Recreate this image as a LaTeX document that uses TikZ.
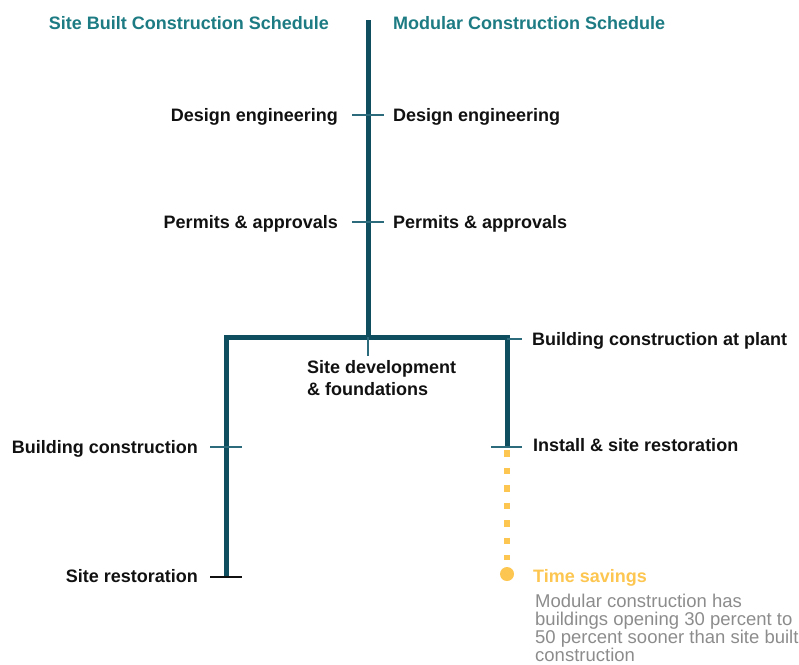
\documentclass[tikz,border=0pt]{standalone}
\usepackage{fontspec}
\setmainfont{Liberation Sans}
\usepackage{tikz}
\definecolor{headteal}{HTML}{1D7B83}
\definecolor{lineteal}{HTML}{0E4E5F}
\definecolor{tickteal}{HTML}{2B6B7B}
\definecolor{savegold}{HTML}{FCC650}
\definecolor{notegray}{HTML}{8C8C8C}
\definecolor{labelblack}{HTML}{111111}

\begin{document}
\begin{tikzpicture}[x=1pt,y=-1pt,line cap=butt,
  head/.style={inner sep=0pt,text=headteal,font=\fontsize{18}{20}\selectfont\bfseries},
  lbl/.style={inner sep=0pt,text=labelblack,font=\fontsize{18}{22}\selectfont\bfseries},
  trunk/.style={line width=5pt,color=lineteal,line join=miter},
  tick/.style={line width=1.5pt,color=tickteal}]
\useasboundingbox (0,0) rectangle (799,664);
% headings
\node[head,anchor=base east] (sitehead) at (329,29) {Site Built Construction Schedule};
\node[head,anchor=base west] (modhead) at (393,29) {Modular Construction Schedule};
% schedule lines
\coordinate (top) at (368,20);
\coordinate (split) at (368,337);
\coordinate (lcorner) at (226,337);
\coordinate (rcorner) at (507,337);
\coordinate (lend) at (226,577);
\coordinate (rend) at (507,447);
\draw[trunk] (top) -- (split);
\draw[trunk] (lend) -- (lcorner) -- (rcorner) -- (rend);
\draw[line width=1.5pt,color=tickteal] (split) -- (368,356);
% shared steps
\foreach \y/\txt [count=\i] in {121/Design engineering,228/Permits \& approvals}{
  \node[lbl,anchor=base east] (sitestep\i) at (338,\y) {\txt};
  \node[lbl,anchor=base west] (modstep\i) at (393,\y) {\txt};
  \draw[tick] (352,{\y-6}) -- (384,{\y-6});
}
% branches (base of a two-line node is its last line)
\node[lbl,anchor=base west,align=left] (sitedev) at (307,395) {Site development\\\& foundations};
\node[lbl,anchor=base west] (plant) at (532,345) {Building construction at plant};
\draw[tick] (507,339) -- (522,339);
\node[lbl,anchor=base east] (sitebuild) at (198,453) {Building construction};
\draw[tick] (210,447) -- (242,447);
\node[lbl,anchor=base west] (install) at (533,451) {Install \& site restoration};
\draw[tick] (491,447) -- (522,447);
\node[lbl,anchor=base east] (siterest) at (198,582) {Site restoration};
\draw[line width=1.5pt,color=labelblack] (210,577) -- (242,577);
% time savings
\node[circle,fill=savegold,minimum size=14pt,inner sep=0pt] (savedot) at (507,574) {};
\coordinate (dotstart) at (507,450);
\draw[savegold,line width=5.5pt,dash pattern=on 6.5pt off 11pt] (dotstart) -- (507,560);
\node[lbl,text=savegold,anchor=base west] (savings) at (533,582) {Time savings};
\node[inner sep=0pt,text=notegray,anchor=base west,align=left,
  font=\fontsize{18.5}{18}\selectfont] (savenote) at (535,661)
  {Modular construction has\\buildings opening 30 percent to\\50 percent sooner than site built\\construction};
\end{tikzpicture}
\end{document}
